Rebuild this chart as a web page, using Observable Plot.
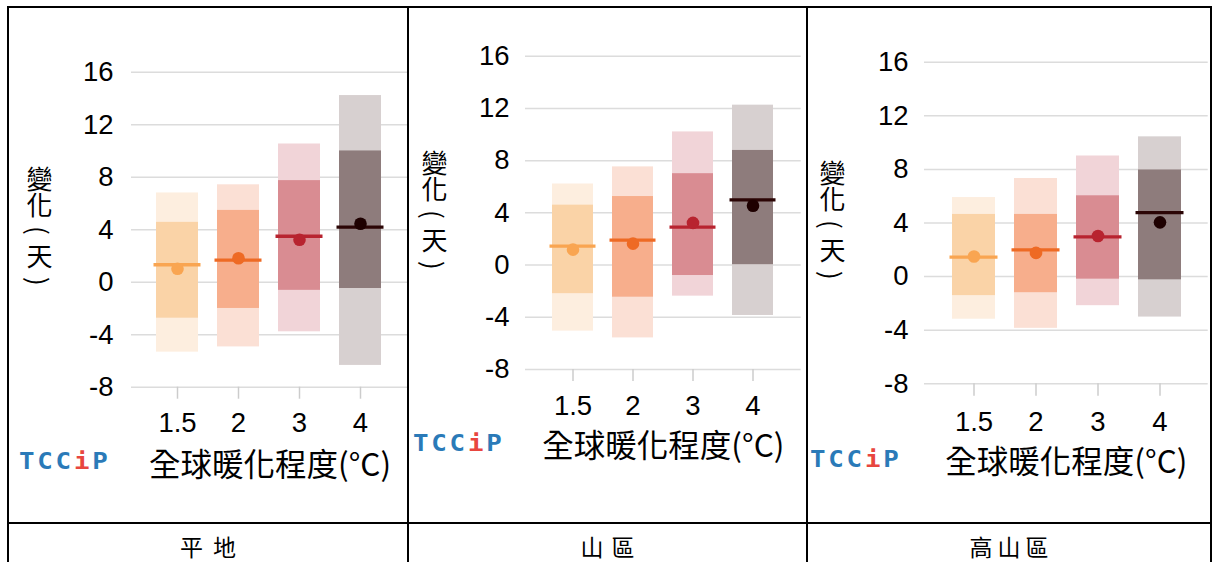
<!DOCTYPE html>
<html><head><meta charset="utf-8">
<script src="https://cdn.jsdelivr.net/npm/d3@7"></script>
<script src="https://cdn.jsdelivr.net/npm/@observablehq/plot@0.6"></script>
<style>
body{margin:0;background:#fff;}
#root{position:relative;width:1213px;height:562px;overflow:hidden;background:#fff;}
.panel{position:absolute;top:0;}
.line{position:absolute;background:#000;z-index:5;}
.logo{position:absolute;font-family:"DejaVu Sans Mono",monospace;font-weight:bold;font-size:23px;color:#2a7ab8;letter-spacing:2.5px;line-height:24px;z-index:4;transform:scaleX(1.12);transform-origin:left center;}
.logo .i{color:#e8463f;}
.ylab{position:absolute;writing-mode:vertical-rl;text-orientation:mixed;font-family:"Noto Sans CJK TC",sans-serif;font-size:26px;line-height:30px;color:#000;z-index:4;white-space:nowrap;}
.ylab .p{padding-inline:8px;}
.region{position:absolute;top:534px;text-align:center;font-family:"Noto Sans CJK TC",sans-serif;font-size:23px;line-height:24px;color:#000;z-index:4;}
</style></head><body><div id="root"></div>
<script>
// ---- data ----
const levels = ["1.5", "2", "3", "4"];
const regions = ["平地", "山區", "高山區"];
const yTicks = [-8, -4, 0, 4, 8, 12, 16];
const yLabel = "變化(天)";
const xTitle = "全球暖化程度(°C)";

// 平地
const flatOuterHi = [6.8, 7.42, 10.53, 14.22];
const flatInnerHi = [4.56, 5.47, 7.74, 10.0];
const flatInnerLo = [-2.74, -2.0, -0.62, -0.48];
const flatOuterLo = [-5.33, -4.93, -3.78, -6.34];
const flatMedian  = [1.33, 1.68, 3.5, 4.2];
const flatMean    = [1.03, 1.83, 3.23, 4.45];
// 山區
const mtnOuterHi = [6.21, 7.52, 10.2, 12.25];
const mtnInnerHi = [4.59, 5.25, 7.0, 8.78];
const mtnInnerLo = [-2.19, -2.46, -0.8, 0.03];
const mtnOuterLo = [-5.06, -5.58, -2.38, -3.86];
const mtnMedian  = [1.45, 1.91, 2.9, 5.0];
const mtnMean    = [1.18, 1.64, 3.23, 4.54];
// 高山區
const highOuterHi = [5.9, 7.32, 9.0, 10.43];
const highInnerHi = [4.64, 4.64, 6.03, 7.96];
const highInnerLo = [-1.42, -1.2, -0.19, -0.24];
const highOuterLo = [-3.18, -3.86, -2.17, -3.02];
const highMedian  = [1.45, 2.0, 2.97, 4.77];
const highMean    = [1.5, 1.77, 3.03, 4.05];

const outerColors = ["#fdeedf", "#fbe0d5", "#f1d4d8", "#d7d0d0"];
const innerColors = ["#fad3a7", "#f7ae8c", "#d98c92", "#8e7c7c"];
const lineColors  = ["#f9a551", "#ee6a24", "#b8232f", "#2b0505"];
const dotColors   = ["#f9a551", "#ee6a24", "#b8232f", "#1e0000"];

const series = [
  {oHi: flatOuterHi, iHi: flatInnerHi, iLo: flatInnerLo, oLo: flatOuterLo, med: flatMedian, mean: flatMean},
  {oHi: mtnOuterHi, iHi: mtnInnerHi, iLo: mtnInnerLo, oLo: mtnOuterLo, med: mtnMedian, mean: mtnMean},
  {oHi: highOuterHi, iHi: highInnerHi, iLo: highInnerLo, oLo: highOuterLo, med: highMedian, mean: highMean}
];

// ---- layout ----
const H = 523;
const layouts = [
  {left: 8, width: 400, grid: [123, 400], y: [386.7, 71.7], centers: [169, 230, 291, 352], bw: 42, ypad: 18, xpad: 13.3, tick: 12, titleDy: 78.3, ylab: [39, 230], logo: [19, 449], reg: [8, 408], ls: 10},
  {left: 408, width: 399, grid: [117, 392.7], y: [369, 55.7], centers: [163.7, 224.3, 285.3, 346.3], bw: 42, ypad: 16, xpad: 14.3, tick: 12, titleDy: 77, ylab: [434, 214], logo: [413, 431], reg: [408, 807], ls: 8},
  {left: 807, width: 404, grid: [117, 400.7], y: [383.3, 61.7], centers: [165, 227.7, 290.3, 353], bw: 43.4, ypad: 16, xpad: 15, tick: 12.5, titleDy: 78.7, ylab: [832, 224], logo: [810, 447], reg: [807, 1211], ls: 5}
];

const root = document.getElementById("root");

layouts.forEach((cfg, p) => {
  const s = series[p];
  const rows = levels.map((l, i) => ({
    level: l, oLo: s.oLo[i], oHi: s.oHi[i], iLo: s.iLo[i], iHi: s.iHi[i],
    med: s.med[i], mean: s.mean[i],
    c1: outerColors[i], c2: innerColors[i], c3: lineColors[i], c4: dotColors[i]
  }));
  const step = (cfg.centers[3] - cfg.centers[0]) / 3;
  const r0 = cfg.centers[0] - cfg.bw / 2, r1 = cfg.centers[3] + cfg.bw / 2;
  const chart = Plot.plot({
    width: cfg.width, height: H,
    marginLeft: cfg.grid[0], marginRight: cfg.width - cfg.grid[1],
    marginTop: cfg.y[1], marginBottom: H - cfg.y[0],
    style: {background: "transparent", fontFamily: "'Liberation Sans', Arial, sans-serif", overflow: "visible", color: "#000"},
    x: {type: "band", domain: levels, range: [r0, r1], paddingInner: 1 - cfg.bw / step, paddingOuter: 0, align: 0.5},
    y: {domain: [-8, 16], range: cfg.y},
    color: {type: "identity"},
    marks: [
      Plot.ruleY(yTicks, {stroke: "#dcdcdc", strokeWidth: 1.5}),
      Plot.axisY(yTicks, {tickSize: 0, tickPadding: cfg.ypad, fontSize: 27.5, label: null, tickFormat: d => String(d)}),
      Plot.axisX({tickSize: cfg.tick, tickPadding: cfg.xpad, fontSize: 27.5, label: null, stroke: "#cccccc", strokeWidth: 1.5, fill: "#000"}),
      Plot.barY(rows, {x: "level", y1: "oLo", y2: "oHi", fill: "c1"}),
      Plot.barY(rows, {x: "level", y1: "iLo", y2: "iHi", fill: "c2"}),
      Plot.tickY(rows, {x: "level", y: "med", stroke: "c3", strokeWidth: 3.3, insetLeft: -2.5, insetRight: -2.5}),
      Plot.dot(rows, {x: "level", y: "mean", fill: "c4", r: 6.3}),
      Plot.text([xTitle], {text: d => d, frameAnchor: "bottom", dy: cfg.titleDy, fontSize: 31.5, fontFamily: "'Noto Sans CJK TC', sans-serif", lineAnchor: "middle", fill: "#000"})
    ]
  });
  chart.classList.add("panel");
  chart.style.left = cfg.left + "px";
  root.appendChild(chart);

  // vertical y-axis label (vertical writing; parentheses turn sideways)
  const yl = document.createElement("div");
  yl.className = "ylab";
  for (const ch of yLabel) {
    if (ch === "(" || ch === ")") {
      const sp = document.createElement("span");
      sp.className = "p";
      sp.textContent = ch;
      yl.appendChild(sp);
    } else {
      yl.appendChild(document.createTextNode(ch));
    }
  }
  root.appendChild(yl);
  const b = yl.getBoundingClientRect();
  yl.style.left = (cfg.ylab[0] - b.width / 2) + "px";
  yl.style.top = (cfg.ylab[1] - b.height / 2) + "px";

  const logo = document.createElement("div");
  logo.className = "logo";
  logo.style.left = cfg.logo[0] + "px";
  logo.style.top = cfg.logo[1] + "px";
  logo.innerHTML = 'TCC<span class="i">i</span>P';
  root.appendChild(logo);

  const reg = document.createElement("div");
  reg.className = "region";
  reg.style.left = cfg.reg[0] + "px";
  reg.style.width = (cfg.reg[1] - cfg.reg[0]) + "px";
  reg.style.letterSpacing = cfg.ls + "px";
  reg.style.textIndent = cfg.ls + "px";
  reg.textContent = regions[p];
  root.appendChild(reg);
});

// table borders
function line(x, y, w, h) {
  const d = document.createElement("div");
  d.className = "line";
  Object.assign(d.style, {left: x + "px", top: y + "px", width: w + "px", height: h + "px"});
  root.appendChild(d);
}
line(7, 6, 1205, 2);
line(7, 522, 1205, 2);
line(7, 6, 2, 560);
line(407, 6, 2, 560);
line(806, 6, 2, 560);
line(1210, 6, 2, 560);
</script>
</body></html>
